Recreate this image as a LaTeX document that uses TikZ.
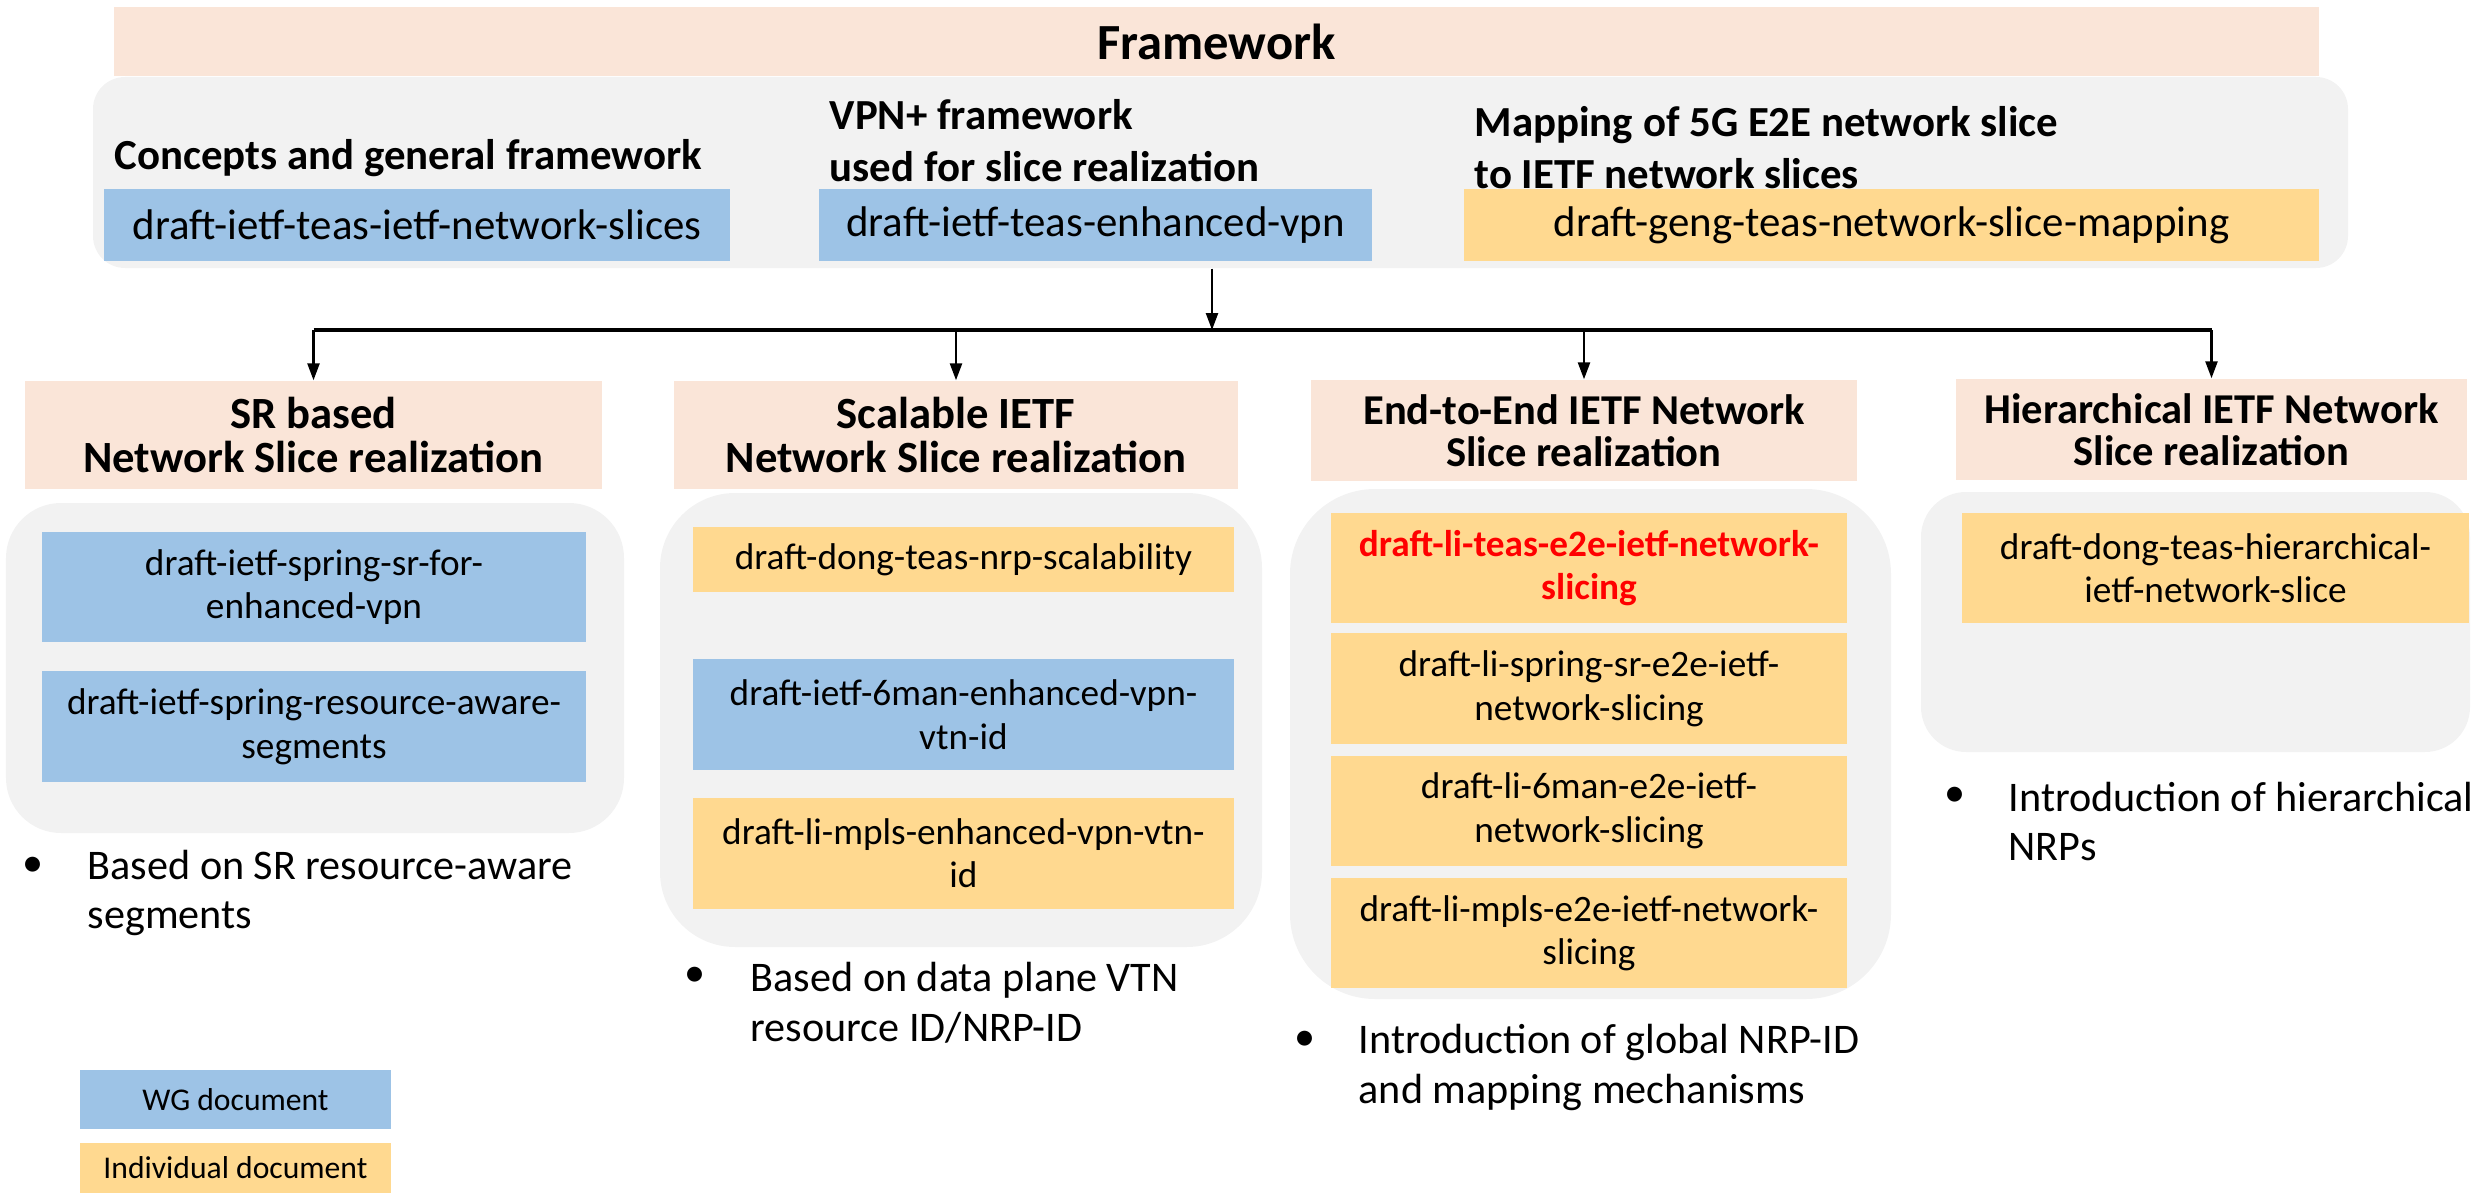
\documentclass[tikz,border=0pt]{standalone}
\usepackage{fontspec}
\setmainfont{Carlito}
\usetikzlibrary{arrows.meta, positioning}
\definecolor{headfill}{HTML}{FAE5D8}
\definecolor{panelfill}{HTML}{F2F2F2}
\definecolor{wgblue}{HTML}{9DC3E6}
\definecolor{indorange}{HTML}{FFD990}
\tikzstyle{arrow} = [line width=0.7pt, -{Triangle[length=0.17cm, width=0.12cm]}]

\begin{document}
\begin{tikzpicture}[
  every node/.style={inner sep=0pt},
  headbox/.style={rectangle, fill=headfill, align=center, font=\fontsize{12.7}{12.8}\selectfont\bfseries},
  panel/.style={rectangle, fill=panelfill, rounded corners=0.55cm},
  wgdoc/.style={rectangle, fill=wgblue, align=center, font=\fontsize{10.6}{12.4}\selectfont},
  inddoc/.style={rectangle, fill=indorange, align=center, font=\fontsize{10.6}{12.4}\selectfont},
  topdoc/.style={minimum height=0.72cm, font=\fontsize{12.2}{14}\selectfont},
  topic/.style={anchor=west, align=left, font=\fontsize{12.2}{14.8}\selectfont\bfseries},
  note/.style={anchor=west, align=left, font=\fontsize{12}{14.2}\selectfont},
  dot/.style={font=\fontsize{12}{14}\selectfont},
  legend/.style={rectangle, align=center, minimum width=3.11cm, font=\fontsize{9}{10}\selectfont}
]
\useasboundingbox (0,0) rectangle (24.79,11.94);

% Framework
\node[headbox, minimum width=22.05cm, minimum height=0.69cm, font=\fontsize{14.4}{16}\selectfont\bfseries] (title) at (12.165,11.525) {Framework};
\node[panel, minimum width=22.55cm, minimum height=1.91cm, rounded corners=0.32cm] (fw) at (12.205,10.215) {};
\node[wgdoc, topdoc, minimum width=6.26cm] (nsdraft) at (4.17,9.69) {draft-ietf-teas-ietf-network-slices};
\node[wgdoc, topdoc, minimum width=5.53cm] (vpndraft) at (10.955,9.69) {draft-ietf-teas-enhanced-vpn};
\node[inddoc, topdoc, minimum width=8.55cm] (mapdraft) at (18.915,9.69) {draft-geng-teas-network-slice-mapping};
\node[topic] (concepts) at (1.14,10.36) {Concepts and general framework};
\node[topic] (vpnplus) at (8.29,10.53) {VPN+ framework\\used for slice realization};
\node[topic] (mapping) at (14.74,10.46) {Mapping of 5G E2E network slice\\to IETF network slices};

% Realization headers
\node[headbox, minimum width=5.77cm, minimum height=1.08cm] (srhead) at (3.135,7.59) {SR based\\Network Slice realization};
\node[headbox, minimum width=5.64cm, minimum height=1.08cm] (scalhead) at (9.56,7.59) {Scalable IETF\\Network Slice realization};
\node[headbox, minimum width=5.46cm, minimum height=1.01cm, font=\fontsize{12.1}{11.9}\selectfont\bfseries] (e2ehead) at (15.84,7.635) {End-to-End IETF Network\\Slice realization};
\node[headbox, minimum width=5.11cm, minimum height=1.01cm, font=\fontsize{12.1}{11.9}\selectfont\bfseries] (hierhead) at (22.115,7.645) {Hierarchical IETF Network\\Slice realization};

% Panels
\node[panel, minimum width=6.18cm, minimum height=3.30cm] (srpanel) at (3.15,5.26) {};
\node[panel, minimum width=6.02cm, minimum height=4.54cm, rounded corners=0.75cm] (scalpanel) at (9.61,4.74) {};
\node[panel, minimum width=6.01cm, minimum height=5.10cm, rounded corners=0.85cm] (e2epanel) at (15.905,4.50) {};
\node[panel, minimum width=5.49cm, minimum height=2.60cm, rounded corners=0.45cm] (hierpanel) at (21.955,5.72) {};

% Documents
\node[wgdoc, minimum width=5.44cm, minimum height=1.10cm] (sr1) at (3.14,6.07) {draft-ietf-spring-sr-for-\\enhanced-vpn};
\node[wgdoc, minimum width=5.44cm, minimum height=1.11cm, below=0.28cm of sr1] (sr2) {draft-ietf-spring-resource-aware-\\segments};

\node[inddoc, minimum width=5.41cm, minimum height=0.65cm] (scal1) at (9.635,6.345) {draft-dong-teas-nrp-scalability};
\node[wgdoc, minimum width=5.41cm, minimum height=1.11cm, below=0.66cm of scal1] (scal2) {draft-ietf-6man-enhanced-vpn-\\vtn-id};
\node[inddoc, minimum width=5.41cm, minimum height=1.11cm, below=0.26cm of scal2] (scal3) {draft-li-mpls-enhanced-vpn-vtn-\\id};

\node[inddoc, minimum width=5.16cm, minimum height=1.10cm, text=red, font=\fontsize{10.6}{12.4}\selectfont\bfseries] (e2e1) at (15.89,6.26) {draft-li-teas-e2e-ietf-network-\\slicing};
\node[inddoc, minimum width=5.16cm, minimum height=1.11cm, below=0.09cm of e2e1] (e2e2) {draft-li-spring-sr-e2e-ietf-\\network-slicing};
\node[inddoc, minimum width=5.16cm, minimum height=1.10cm, below=0.10cm of e2e2] (e2e3) {draft-li-6man-e2e-ietf-\\network-slicing};
\node[inddoc, minimum width=5.16cm, minimum height=1.10cm, below=0.11cm of e2e3] (e2e4) {draft-li-mpls-e2e-ietf-network-\\slicing};

\node[inddoc, minimum width=5.07cm, minimum height=1.10cm] (hier1) at (22.155,6.26) {draft-dong-teas-hierarchical-\\ietf-network-slice};

% Arrows
\coordinate (split) at (12.12,8.64);
\draw[arrow] (fw.south -| split) -- (split);
\draw[line width=1pt] (srhead.north |- split) -- (hierhead.north |- split);
\foreach \h in {srhead, scalhead, e2ehead, hierhead}
  \draw[arrow] (\h.north |- split) -- (\h.north);

% Notes
\node[note] (srnote) at (0.87,3.01) {Based on SR resource-aware\\segments};
\node[dot] (srdot) at (0.33,3.27) {\textbullet};
\node[note] (scalnote) at (7.50,1.91) {Based on data plane VTN\\resource ID/NRP-ID};
\node[dot] (scaldot) at (6.95,2.17) {\textbullet};
\node[note] (e2enote) at (13.58,1.265) {Introduction of global NRP-ID\\and mapping mechanisms};
\node[dot] (e2edot) at (13.05,1.53) {\textbullet};
\node[note] (hiernote) at (20.08,3.725) {Introduction of hierarchical\\NRPs};
\node[dot] (hierdot) at (19.55,3.97) {\textbullet};

% Legend
\node[legend, fill=wgblue, minimum height=0.59cm] (wgkey) at (2.355,0.945) {WG document};
\node[legend, fill=indorange, minimum height=0.50cm] (indkey) at (2.355,0.26) {Individual document};

\end{tikzpicture}
\end{document}
